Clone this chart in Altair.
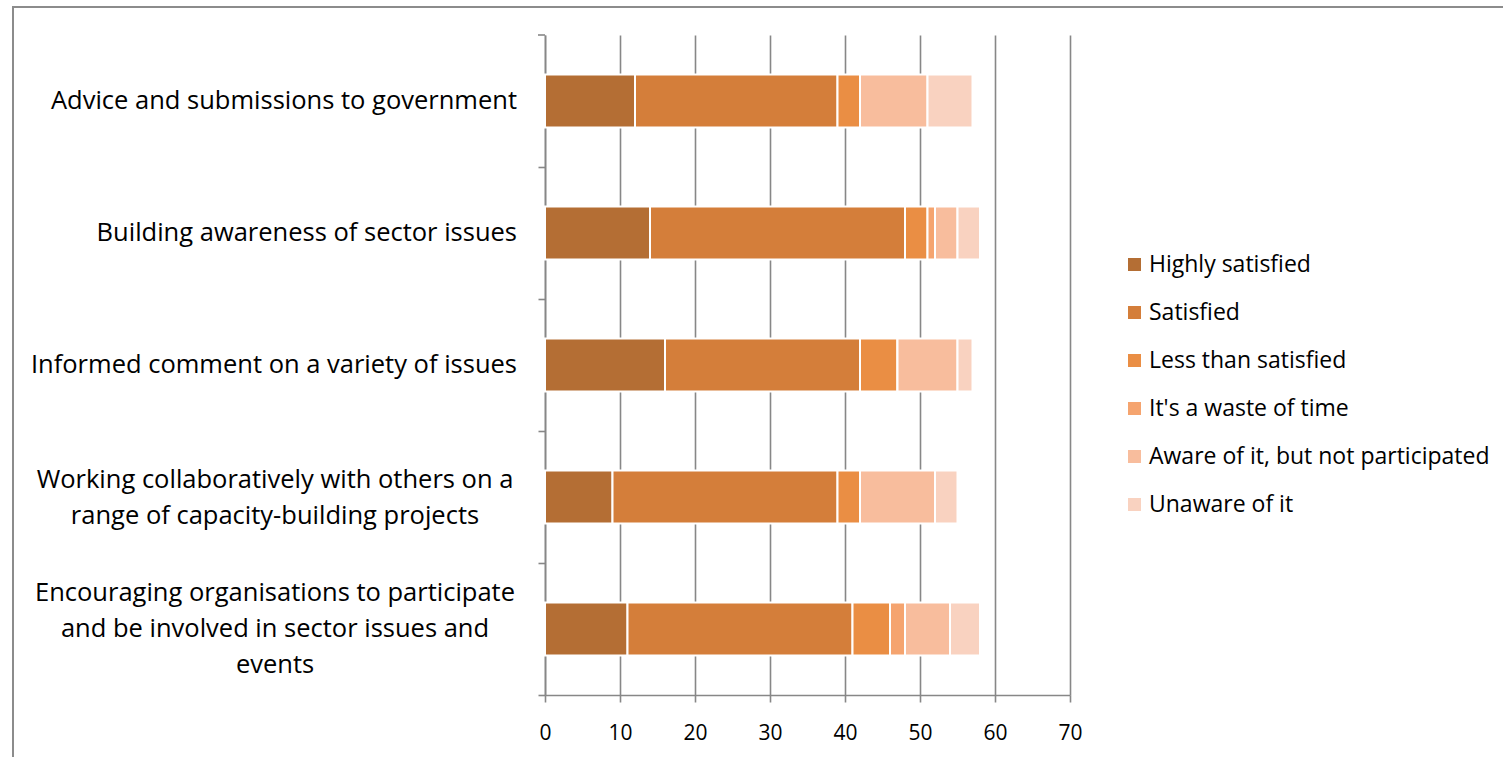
import altair as alt
import pandas as pd

categories = [
    "Advice and submissions to government",
    "Building awareness of sector issues",
    "Informed comment on a variety of issues",
    "Working collaboratively with others on a|range of capacity-building projects",
    "Encouraging organisations to participate|and be involved in sector issues and|events",
]
statuses = [
    "Highly satisfied",
    "Satisfied",
    "Less than satisfied",
    "It's a waste of time",
    "Aware of it, but not participated",
    "Unaware of it",
]
highly_satisfied = [12, 14, 16, 9, 11]
satisfied = [27, 34, 26, 30, 30]
less_than_satisfied = [3, 3, 5, 3, 5]
waste_of_time = [0, 1, 0, 0, 2]
aware_not_participated = [9, 3, 8, 10, 6]
unaware = [6, 3, 2, 3, 4]
colors = ["#B46E34", "#D47E3A", "#EA8E44", "#F5A46F", "#F8BD9D", "#F9D2C0"]
x_ticks = [0, 10, 20, 30, 40, 50, 60, 70]

series = [highly_satisfied, satisfied, less_than_satisfied, waste_of_time,
          aware_not_participated, unaware]
rows = []
for si, (s, vals) in enumerate(zip(statuses, series)):
    for c, v in zip(categories, vals):
        rows.append({"category": c, "status": s, "value": v, "order": si})
df = pd.DataFrame(rows)
labels_df = pd.DataFrame({
    "category": categories,
    "nlines": [c.count("|") + 1 for c in categories],
})

FONT = "Open Sans"
GRID = "#878787"
YSCALE = alt.Scale(paddingInner=0.6, paddingOuter=0.3)

bars = alt.Chart(df).mark_bar(stroke="white", strokeWidth=2).encode(
    x=alt.X(
        "value:Q",
        stack="zero",
        scale=alt.Scale(domain=[0, 70], nice=False),
        axis=alt.Axis(
            values=x_ticks, title=None, grid=True, gridColor=GRID, gridWidth=1.6,
            domainColor=GRID, domainWidth=1.6, tickColor=GRID, tickWidth=1.6,
            tickSize=7, labelFont=FONT, labelFontSize=21, labelColor="black",
            labelPadding=20, labelFlush=False,
        ),
    ),
    y=alt.Y(
        "category:N",
        sort=categories,
        scale=YSCALE,
        axis=alt.Axis(
            title=None, grid=False, labels=False, domainColor=GRID, domainWidth=1.6,
            tickColor=GRID, tickWidth=1.6, tickSize=7, tickOffset=66,
        ),
    ),
    color=alt.Color(
        "status:N",
        scale=alt.Scale(domain=statuses, range=colors),
        legend=alt.Legend(
            title=None, orient="none", legendX=578, legendY=218, padding=0,
            symbolType="square", symbolSize=169, symbolStrokeWidth=0,
            labelFont=FONT, labelFontSize=23, labelColor="black",
            rowPadding=24, labelLimit=450, labelOffset=3,
        ),
    ),
    order=alt.Order("order:Q", sort="ascending"),
)

def label_layer(n, align, xpos, dy):
    return alt.Chart(labels_df).transform_filter(
        alt.datum.nlines == n
    ).mark_text(
        align=align, baseline="middle", font=FONT, fontSize=25.5, color="black",
        lineBreak="|", lineHeight=36, dy=dy,
    ).encode(
        x=alt.value(xpos),
        y=alt.Y("category:N", sort=categories, scale=YSCALE),
        text="category:N",
    )

lab1 = label_layer(1, "right", -28, 0)
lab2 = label_layer(2, "center", -270, -17)
lab3 = label_layer(3, "center", -270, -36)

top_tick = alt.Chart(pd.DataFrame({"k": [0]})).mark_rule(color=GRID, strokeWidth=1.6).encode(
    x=alt.value(-7), x2=alt.value(0), y=alt.value(0)
)
border = alt.Chart(pd.DataFrame({"k": [0]})).mark_rect(
    fillOpacity=0, stroke="#8c8c8c", strokeWidth=2
).encode(
    x=alt.value(-532), x2=alt.value(1000), y=alt.value(-28), y2=alt.value(800)
)

chart = alt.layer(border, top_tick, bars, lab1, lab2, lab3).properties(
    width=525, height=660,
    autosize=alt.AutoSizeParams(type="none"),
    padding={"left": 545, "top": 35, "right": 433, "bottom": 62},
).configure_view(stroke=None)

chart.save("out.html", embed_options={"renderer": "svg", "actions": False})
